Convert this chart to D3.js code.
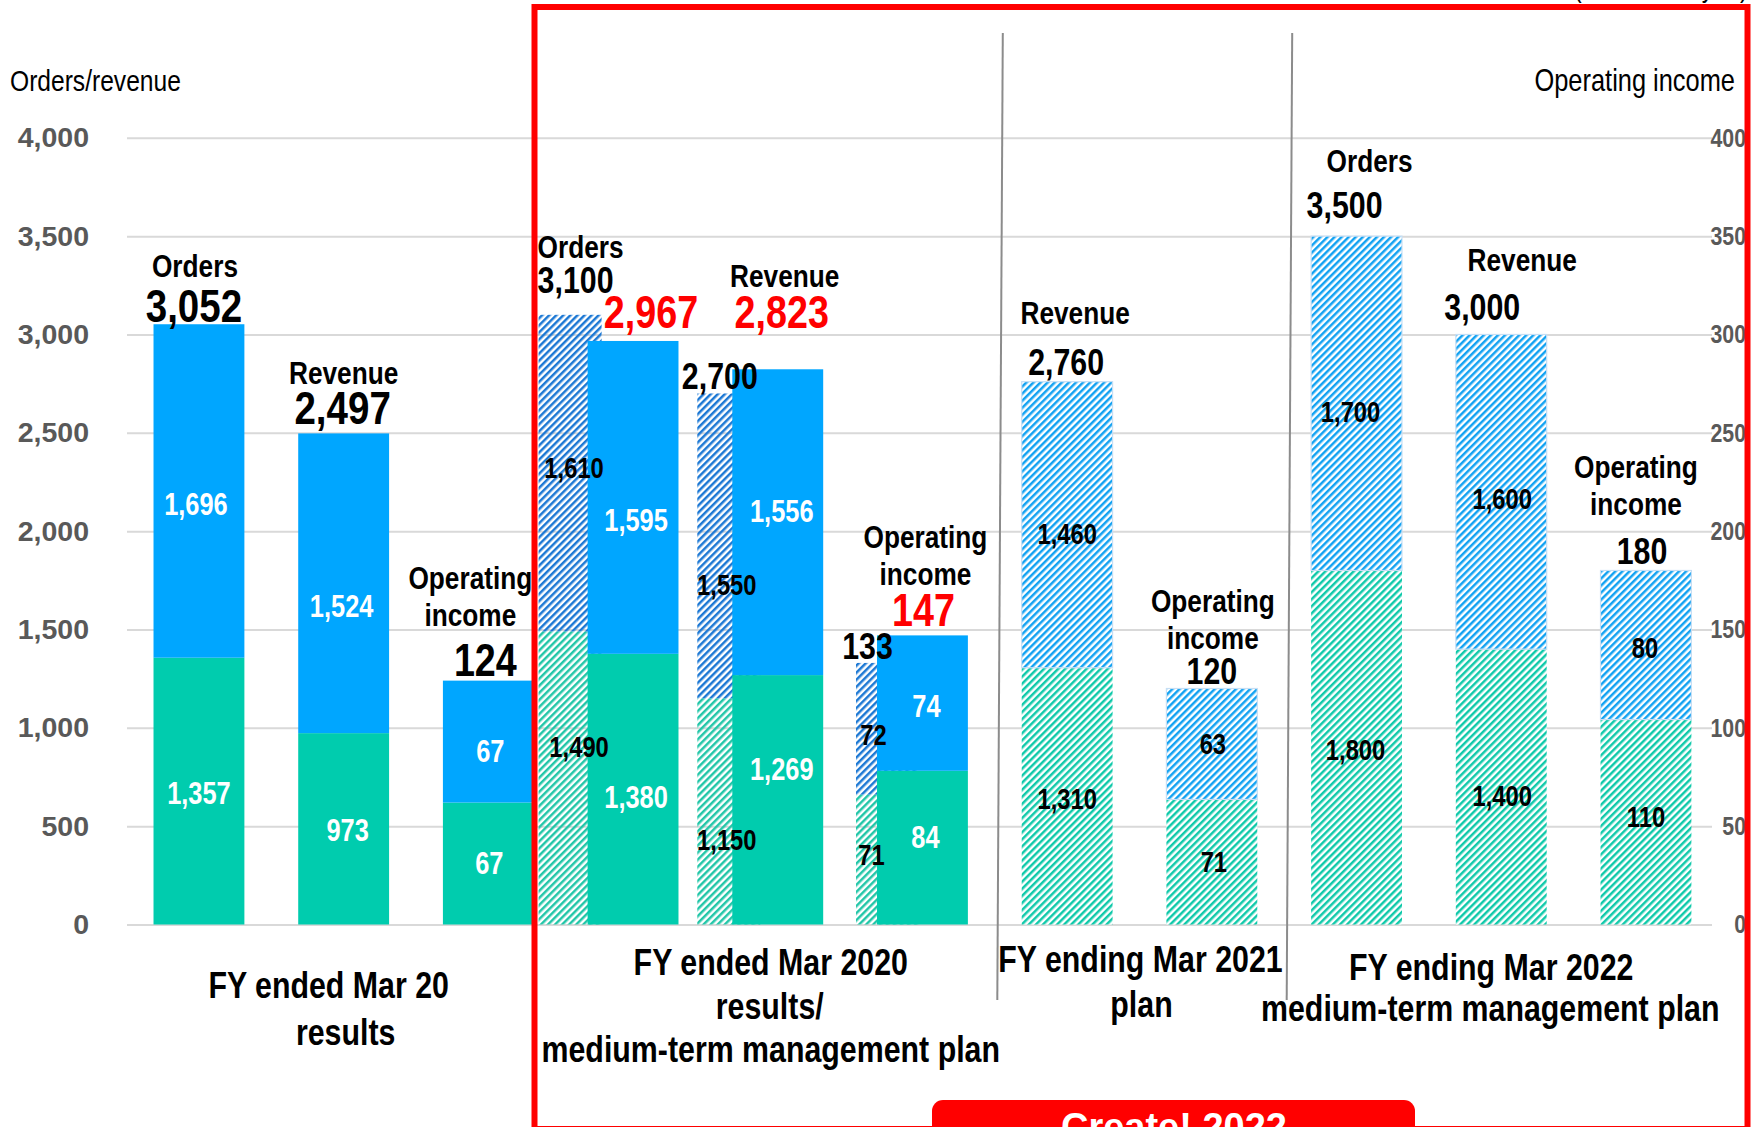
<!DOCTYPE html>
<html>
<head>
<meta charset="utf-8">
<script src="https://cdn.jsdelivr.net/npm/d3@7"></script>
<style>
  html, body { margin: 0; padding: 0; background: #fff; }
  svg { display: block; font-family: "Liberation Sans", Arial, sans-serif; }
</style>
</head>
<body>
<svg id="chart" width="1756" height="1127"></svg>
<script>
// ---- data -------------------------------------------------------------
// one slot per drawn bar, left to right
const barSlots = ["r20-orders", "r20-revenue", "r20-income",
                  "a20-orders", "a20-revenue", "a20-income",
                  "p21-revenue", "p21-income",
                  "p22-orders", "p22-revenue", "p22-income"];
const barNames = [["Orders"], ["Revenue"], ["Operating", "income"],
                  [], ["Revenue"], ["Operating", "income"],
                  ["Revenue"], ["Operating", "income"],
                  ["Orders"], ["Revenue"], ["Operating", "income"]];
const barAxis = ["left", "left", "right", "left", "left", "right", "left", "right", "left", "left", "right"];
const barKind = ["result", "result", "result", "result", "result", "result", "plan", "plan", "plan", "plan", "plan"];
const barTotals = [3052, 2497, 124, 2967, 2823, 147, 2760, 120, 3500, 3000, 180];
const greenValues = [1357, 973, 67, 1380, 1269, 84, 1310, 71, 1800, 1400, 110];
const blueValues = [1696, 1524, 67, 1595, 1556, 74, 1460, 63, 1700, 1600, 80];
const highlightTotals = ["a20-orders", "a20-revenue", "a20-income"];

// medium-term plan targets shown behind the FY ended Mar 2020 results
const planSlots = ["a20-orders", "a20-revenue", "a20-income"];
const planNames = [["Orders"], [], []];
const planAxis = ["left", "left", "right"];
const planTotals = [3100, 2700, 133];
const planGreen = [1490, 1150, 71];
const planBlue = [1610, 1550, 72];

const groupLabels = [
  ["FY ended Mar 20", "results"],
  ["FY ended Mar 2020", "results/", "medium-term management plan"],
  ["FY ending Mar 2021", "plan"],
  ["FY ending Mar 2022", "medium-term management plan"]
];
const groupSlots = [["r20-orders", "r20-income"], ["a20-orders", "a20-income"],
                    ["p21-revenue", "p21-income"], ["p22-orders", "p22-income"]];
const leftTicks = [0, 500, 1000, 1500, 2000, 2500, 3000, 3500, 4000];
const rightTicks = [0, 50, 100, 150, 200, 250, 300, 350, 400];

// ---- layout -----------------------------------------------------------
// total / name label placement relative to the bar centre and top
const totalLayout = {
  "r20-orders":  { dx: -5,  dy: -2,   size: 47, ndx: -4,  ndy: -47 },
  "r20-revenue": { dx: -1,  dy: -9,   size: 47, ndx: 0,   ndy: -49 },
  "r20-income":  { dx: -3,  dy: -5,   size: 46, ndx: -18, ndy: -55 },
  "a20-orders":  { dx: 18,  dy: -13,  size: 46, ndx: 0,   ndy: 0 },
  "a20-revenue": { dx: 4,   dy: -41,  size: 46, ndx: 7,   ndy: -82 },
  "a20-income":  { dx: 1,   dy: -9,   size: 46, ndx: 3,   ndy: -50 },
  "p21-revenue": { dx: -1,  dy: -7,   size: 37, ndx: 8,   ndy: -58 },
  "p21-income":  { dx: 0,   dy: -4,   size: 37, ndx: 1,   ndy: -39 },
  "p22-orders":  { dx: -12, dy: -18,  size: 37, ndx: 13,  ndy: -64 },
  "p22-revenue": { dx: -19, dy: -14,  size: 37, ndx: 21,  ndy: -63 },
  "p22-income":  { dx: -4,  dy: -6,   size: 37, ndx: -10, ndy: -55 }
};
const planTotalLayout = {
  "a20-orders":  { anchor: "start", dx: -1, dy: -22, size: 37, ndy: -57 },
  "a20-revenue": { anchor: "middle", dx: -9, dy: -4, size: 37, ndy: 0 },
  "a20-income":  { anchor: "middle", dx: -20, dy: -4, size: 37, ndy: 0 }
};
// segment label nudges [green dx, green dy, blue dx, blue dy]
const segNudge = {
  "r20-orders": [0, 2, -3, 13], "r20-revenue": [4, 1, -2, 23], "r20-income": [1, -1, 2, 9],
  "a20-orders": [3, 8, 3, 22], "a20-revenue": [4, -31, 4, -11], "a20-income": [3, -11, 4, 3],
  "p21-revenue": [0, 2, 0, 9], "p21-income": [2, 0, 1, 0],
  "p22-orders": [-1, 2, -6, 8], "p22-revenue": [1, 9, 1, 7], "p22-income": [0, -5, -1, 3]
};
const planSegNudge = {
  "a20-orders": [9, -31, 4, -6], "a20-revenue": [-2, 28, -2, 39], "a20-income": [-16, -5, -14, 6]
};
const groupLayout = [
  { dx: [-15, 2], base: 998, lh: 46.5 },
  { dx: [-7, -8, -7], base: 975, lh: 43.5 },
  { dx: [1, 2], base: 972, lh: 45 },
  { dx: [-10, -11], base: 980, lh: 41 }
];

const BLUE = "#00A6FF", GREEN = "#00CCAE";
const NARROW = 0.82;            // horizontal squeeze for the condensed label face
const fmt = d3.format(",");

const svg = d3.select("#chart");
const defs = svg.append("defs");

// condensed text: draw at the origin and move/squeeze with a transform
function nText(parent, xx, yy, str, size, opts = {}) {
  return parent.append("text")
    .attr("transform", `translate(${xx},${yy}) scale(${NARROW},1)`)
    .attr("text-anchor", opts.anchor || "middle")
    .attr("font-size", size)
    .attr("font-weight", opts.weight || "bold")
    .attr("fill", opts.fill || "#000")
    .attr("dy", opts.dy || null)
    .text(str);
}

function hatch(id, color, bg, period) {
  const p = defs.append("pattern")
    .attr("id", id).attr("patternUnits", "userSpaceOnUse")
    .attr("width", period).attr("height", period)
    .attr("patternTransform", "rotate(45)");
  if (bg) p.append("rect").attr("width", period).attr("height", period).attr("fill", bg);
  p.append("rect").attr("width", period / 2).attr("height", period).attr("fill", color);
}
hatch("hBlue", "#12A2F2", "#fff", 5);
hatch("hGreen", "#10C9AA", "#fff", 5);
hatch("hBlueBack", "#1C78D4", null, 5);
hatch("hGreenBack", "#22C6A8", null, 5);

// ---- scales -----------------------------------------------------------
const plotLeft = 127, plotRight = 1712;
const yL = d3.scaleLinear().domain([0, 4000]).range([924.5, 137.8]);
const yR = d3.scaleLinear().domain([0, 400]).range([924.5, 137.8]);
const x = d3.scaleBand().domain(barSlots).range([126.6, 1718.3]).paddingInner(0.372).paddingOuter(0.186);
const xPlan = d3.scaleBand().domain(planSlots).range([538.6, 919]).paddingInner(0.603).paddingOuter(0);
const yFor = a => (a === "right" ? yR : yL);

// ---- axes & grid ------------------------------------------------------
const gAxisL = svg.append("g").attr("transform", `translate(${plotLeft},0)`)
  .call(d3.axisLeft(yL).tickValues(leftTicks).tickFormat(fmt)
    .tickSizeInner(-(plotRight - plotLeft)).tickSizeOuter(0).tickPadding(38));
gAxisL.select(".domain").remove();
gAxisL.selectAll(".tick line").attr("stroke", "#d9d9d9").attr("stroke-width", 2);
gAxisL.selectAll(".tick text").attr("font-size", 28.5)
  .attr("font-weight", "bold").attr("fill", "#595959")
  .attr("font-family", "'Liberation Sans', Arial, sans-serif");

const gAxisR = svg.append("g").attr("transform", `translate(${plotRight},0)`)
  .call(d3.axisRight(yR).tickValues(rightTicks).tickSize(0).tickPadding(0));
gAxisR.select(".domain").remove();
gAxisR.selectAll(".tick text")
  .attr("font-size", 26).attr("font-weight", "bold").attr("fill", "#595959")
  .attr("font-family", "'Liberation Sans', Arial, sans-serif")
  .attr("text-anchor", "end").attr("x", 0)
  .attr("transform", `translate(34,0) scale(${NARROW},1)`);

nText(svg, 10, 91, "Orders/revenue", 30, { anchor: "start", weight: "normal" });
nText(svg, 1735, 91, "Operating income", 31, { anchor: "end", weight: "normal" });
nText(svg, 1748, -3, "(100 million yen)", 29, { anchor: "end", weight: "normal" });

// split a stacked bar so that the two parts share the stated total
function parts(g, b, total) { const k = total / (g + b); return [g * k, b * k]; }

// ---- plan targets behind the FY2020 results ---------------------------
const gPlan = svg.append("g");
planSlots.forEach((s, i) => {
  const y = yFor(planAxis[i]);
  const [g] = parts(planGreen[i], planBlue[i], planTotals[i]);
  const x0 = xPlan(s), w = xPlan.bandwidth();
  gPlan.append("rect").attr("x", x0).attr("width", w)
    .attr("y", y(g)).attr("height", y(0) - y(g)).attr("fill", "url(#hGreenBack)");
  gPlan.append("rect").attr("x", x0).attr("width", w)
    .attr("y", y(planTotals[i])).attr("height", y(g) - y(planTotals[i])).attr("fill", "url(#hBlueBack)");
});

// ---- bars ---------------------------------------------------------------
const gBars = svg.append("g");
barSlots.forEach((s, i) => {
  const y = yFor(barAxis[i]);
  const [g] = parts(greenValues[i], blueValues[i], barTotals[i]);
  const x0 = x(s), w = x.bandwidth();
  const solid = barKind[i] === "result";
  gBars.append("rect").attr("x", x0).attr("width", w)
    .attr("y", y(g)).attr("height", y(0) - y(g))
    .attr("fill", solid ? GREEN : "url(#hGreen)");
  gBars.append("rect").attr("x", x0).attr("width", w)
    .attr("y", y(barTotals[i])).attr("height", y(g) - y(barTotals[i]))
    .attr("fill", solid ? BLUE : "url(#hBlue)")
    .attr("stroke", solid ? "none" : "#c6def4").attr("stroke-width", solid ? 0 : 1.2);
});

// ---- segment labels -------------------------------------------------------
const gSeg = svg.append("g");
function segLabel(cx, yTop, yBot, value, nudge, color, size) {
  nText(gSeg, cx + nudge[0], (yTop + yBot) / 2 + nudge[1], fmt(value), size, { fill: color, dy: "0.36em" });
}
planSlots.forEach((s, i) => {
  const y = yFor(planAxis[i]);
  const [g] = parts(planGreen[i], planBlue[i], planTotals[i]);
  const cx = xPlan(s) + xPlan.bandwidth() / 2, n = planSegNudge[s];
  segLabel(cx, y(g), y(0), planGreen[i], [n[0], n[1]], "#000", 29);
  segLabel(cx, y(planTotals[i]), y(g), planBlue[i], [n[2], n[3]], "#000", 29);
});
barSlots.forEach((s, i) => {
  const y = yFor(barAxis[i]);
  const [g] = parts(greenValues[i], blueValues[i], barTotals[i]);
  const cx = x(s) + x.bandwidth() / 2, n = segNudge[s];
  const solid = barKind[i] === "result";
  const col = solid ? "#fff" : "#000", size = solid ? 31 : 29;
  segLabel(cx, y(g), y(0), greenValues[i], [n[0], n[1]], col, size);
  segLabel(cx, y(barTotals[i]), y(g), blueValues[i], [n[2], n[3]], col, size);
});

// ---- totals and series names ---------------------------------------------
const gTot = svg.append("g");
function names(lines, xx, baseLast, anchor) {
  lines.forEach((t, k) => nText(gTot, xx, baseLast - (lines.length - 1 - k) * 37, t, 32, { anchor }));
}
barSlots.forEach((s, i) => {
  const y = yFor(barAxis[i]);
  const L = totalLayout[s];
  const cx = x(s) + x.bandwidth() / 2, top = y(barTotals[i]);
  nText(gTot, cx + L.dx, top + L.dy, fmt(barTotals[i]), L.size,
    { fill: highlightTotals.includes(s) ? "#FF0000" : "#000" });
  if (barNames[i].length) names(barNames[i], cx + L.ndx, top + L.ndy, "middle");
});
planSlots.forEach((s, i) => {
  const y = yFor(planAxis[i]);
  const L = planTotalLayout[s];
  const top = y(planTotals[i]);
  const xx = L.anchor === "start" ? xPlan(s) + L.dx : xPlan(s) + xPlan.bandwidth() / 2 + L.dx;
  nText(gTot, xx, top + L.dy, fmt(planTotals[i]), L.size, { anchor: L.anchor });
  if (planNames[i].length) names(planNames[i], xx, top + L.ndy, L.anchor);
});

// ---- period separators ------------------------------------------------------
[["a20-income", "p21-revenue"], ["p21-income", "p22-orders"]].forEach(([a, b]) => {
  const mid = (x(a) + x(b) + x.bandwidth()) / 2;
  svg.append("line").attr("x1", mid + 8).attr("y1", 33).attr("x2", mid + 2.5).attr("y2", 1000)
    .attr("stroke", "#8c8c8c").attr("stroke-width", 2);
});

// ---- category labels ------------------------------------------------------
const gCat = svg.append("g");
groupLabels.forEach((lines, gi) => {
  const [a, b] = groupSlots[gi];
  const cx = (x(a) + x(b) + x.bandwidth()) / 2;
  const L = groupLayout[gi];
  lines.forEach((t, k) => nText(gCat, cx + L.dx[k], L.base + k * L.lh, t, 37));
});

// ---- medium-term plan frame ---------------------------------------------------
svg.append("rect").attr("x", 534.5).attr("y", 7).attr("width", 1747.5 - 534.5).attr("height", 1122)
  .attr("fill", "none").attr("stroke", "#FF0000").attr("stroke-width", 6);
svg.append("rect").attr("x", 932).attr("y", 1100).attr("width", 483).attr("height", 60)
  .attr("rx", 11).attr("fill", "#FF0000");
svg.append("text").attr("x", 1174).attr("y", 1140)
  .attr("text-anchor", "middle").attr("font-size", 38).attr("font-weight", "bold")
  .attr("fill", "#fff").text("Create! 2022");
</script>
</body>
</html>
